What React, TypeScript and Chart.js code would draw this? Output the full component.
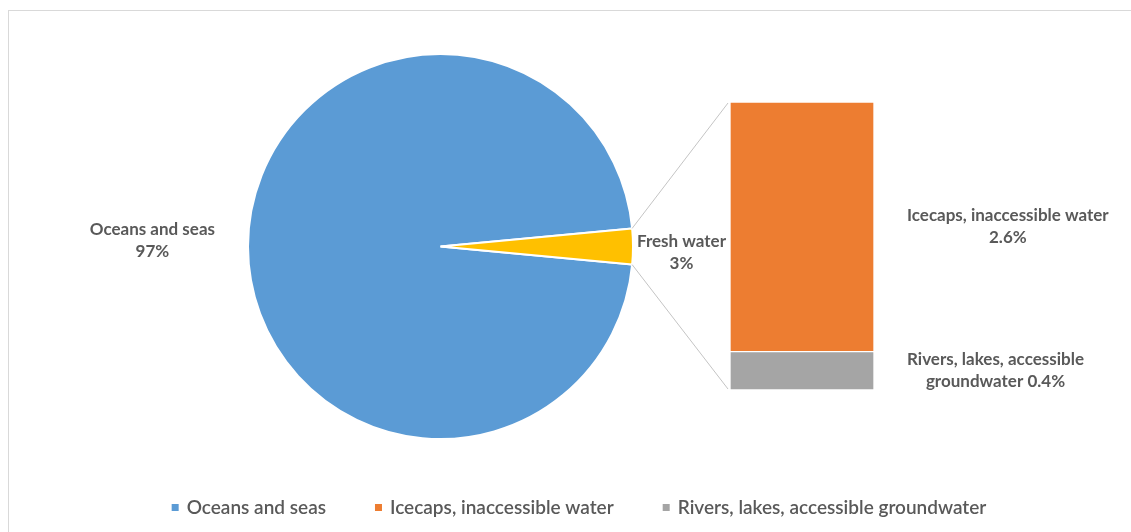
import React, { useEffect, useRef } from "react";
import { Chart, registerables } from "chart.js";

Chart.register(...registerables);

// Pie: share of all water on Earth
const pieCategories = ["Oceans and seas", "Fresh water"];
const pieValues = [97, 3];
const pieColors = ["#5B9BD5", "#FFC000"];

// Bar: breakdown of the fresh-water share (bottom to top)
const barCategories = ["Rivers, lakes, accessible groundwater", "Icecaps, inaccessible water"];
const barValues = [0.4, 2.6];
const barColors = ["#A5A5A5", "#ED7D31"];

// Legend entries
const legendItems = ["Oceans and seas", "Icecaps, inaccessible water", "Rivers, lakes, accessible groundwater"];
const legendColors = ["#5B9BD5", "#ED7D31", "#A5A5A5"];

const TEXT_COLOR = "#595959";
const LABEL_FONT = "bold 17px Lato";
const LEGEND_FONT = "600 19px Lato";
const LINE_H = 22;

const FRAME_W = 1130;
const FRAME_H = 530;
const BAR_BOX = { left: 721, top: 91, width: 144, height: 288 };

const barTotal = barValues.reduce((a, b) => a + b, 0);
const freshIndex = 1;
const pieTotal = pieValues.reduce((a, b) => a + b, 0);
// Centre the fresh-water slice on the right-hand horizontal axis
const pieRotation = 90 + ((pieValues[freshIndex] / pieTotal) * 360) / 2;

function wrap(ctx: CanvasRenderingContext2D, text: string, maxW: number): string[] {
  const words = text.split(" ");
  const lines: string[] = [];
  let cur = "";
  for (const w of words) {
    const next = cur ? cur + " " + w : w;
    if (cur && ctx.measureText(next).width > maxW) {
      lines.push(cur);
      cur = w;
    } else {
      cur = next;
    }
  }
  if (cur) lines.push(cur);
  return lines;
}

function drawBlock(ctx: CanvasRenderingContext2D, lines: string[], cx: number, cy: number) {
  const top = cy - ((lines.length - 1) * LINE_H) / 2;
  lines.forEach((l, i) => ctx.fillText(l, cx, top + i * LINE_H));
}

function blockWidth(ctx: CanvasRenderingContext2D, lines: string[]) {
  return Math.max(...lines.map((l) => ctx.measureText(l).width));
}

function makeOverlay(barChart: Chart) {
  return {
    id: "pieOfBarOverlay",
    afterDraw(chart: Chart) {
      const ctx = chart.ctx;
      const arcs = chart.getDatasetMeta(0).data as any[];
      const barMeta = barChart.getDatasetMeta(1).data as any[];
      const lowMeta = barChart.getDatasetMeta(0).data as any[];
      const top = barMeta[0].getProps(["x", "y", "base", "width"], true);
      const low = lowMeta[0].getProps(["x", "y", "base", "width"], true);

      ctx.save();

      // connector lines from the fresh-water slice to the breakdown bar
      const fresh = arcs[freshIndex].getProps(["x", "y", "startAngle", "endAngle", "outerRadius"], true);
      const barLeft = BAR_BOX.left + top.x - top.width / 2 - 2;
      const barTop = BAR_BOX.top + top.y + 1;
      const barBottom = BAR_BOX.top + low.base - 1;
      ctx.strokeStyle = "#C4C4C4";
      ctx.lineWidth = 1;
      ctx.beginPath();
      ctx.moveTo(fresh.x + fresh.outerRadius * Math.cos(fresh.startAngle), fresh.y + fresh.outerRadius * Math.sin(fresh.startAngle));
      ctx.lineTo(barLeft, barTop);
      ctx.moveTo(fresh.x + fresh.outerRadius * Math.cos(fresh.endAngle), fresh.y + fresh.outerRadius * Math.sin(fresh.endAngle));
      ctx.lineTo(barLeft, barBottom);
      ctx.stroke();

      // pie data labels
      ctx.font = LABEL_FONT;
      ctx.fillStyle = TEXT_COLOR;
      ctx.textAlign = "center";
      ctx.textBaseline = "middle";
      const pieGap = [33, 4];
      const pieDy = [-6, 6];
      arcs.forEach((arc, i) => {
        const p = arc.getProps(["x", "y", "startAngle", "endAngle", "outerRadius"], true);
        const mid = (p.startAngle + p.endAngle) / 2;
        const lines = [pieCategories[i], `${pieValues[i]}%`];
        const w = blockWidth(ctx, lines);
        const dir = Math.cos(mid) < 0 ? -1 : 1;
        const edgeX = p.x + Math.cos(mid) * (p.outerRadius + pieGap[i]);
        const cx = edgeX + (dir * w) / 2;
        const cy = p.y + Math.sin(mid) * p.outerRadius + pieDy[i];
        drawBlock(ctx, lines, cx, cy);
      });

      // bar data labels, to the right of each segment
      barCategories.forEach((name, i) => {
        const el = barChart.getDatasetMeta(i).data[0] as any;
        const p = el.getProps(["x", "y", "base", "width"], true);
        const lines = wrap(ctx, `${name} ${barValues[i]}%`, 212);
        const w = blockWidth(ctx, lines);
        const left = BAR_BOX.left + p.x + p.width / 2 + 33;
        const cy = BAR_BOX.top + (p.y + p.base) / 2;
        drawBlock(ctx, lines, left + w / 2, cy);
      });

      // legend
      ctx.font = LEGEND_FONT;
      ctx.textAlign = "left";
      const sq = 7;
      const sqGap = 8;
      const itemGap = 49;
      const widths = legendItems.map((t) => ctx.measureText(t).width);
      const total = widths.reduce((a, w) => a + sq + sqGap + w, 0) + itemGap * (legendItems.length - 1);
      let x = FRAME_W / 2 + 5 - total / 2;
      const ly = 497;
      legendItems.forEach((t, i) => {
        ctx.fillStyle = legendColors[i];
        ctx.fillRect(x, ly - 4, sq, sq);
        ctx.fillStyle = TEXT_COLOR;
        ctx.fillText(t, x + sq + sqGap, ly);
        x += sq + sqGap + widths[i] + itemGap;
      });

      ctx.restore();
    },
  };
}

export default function App() {
  const pieRef = useRef<HTMLCanvasElement>(null);
  const barRef = useRef<HTMLCanvasElement>(null);

  useEffect(() => {
    const barChart = new Chart(barRef.current!, {
      type: "bar",
      data: {
        labels: [pieCategories[freshIndex]],
        datasets: barCategories.map((c, i) => ({
          label: c,
          data: [barValues[i]],
          backgroundColor: barColors[i],
          borderColor: "#FFFFFF",
          borderWidth: 1,
          borderSkipped: false,
          categoryPercentage: 1,
          barPercentage: 1,
        })),
      },
      options: {
        responsive: false,
        animation: false,
        layout: { padding: 0 },
        plugins: { legend: { display: false }, tooltip: { enabled: false } },
        scales: {
          x: { display: false, stacked: true },
          y: { display: false, stacked: true, min: 0, max: barTotal },
        },
      },
    });

    const pieChart = new Chart(pieRef.current!, {
      type: "pie",
      data: {
        labels: pieCategories,
        datasets: [
          {
            data: pieValues,
            backgroundColor: pieColors,
            borderColor: "#FFFFFF",
            borderWidth: 2,
          },
        ],
      },
      options: {
        responsive: false,
        animation: false,
        rotation: pieRotation,
        layout: { padding: { left: 238, right: 505, top: 42, bottom: 101 } },
        plugins: { legend: { display: false }, tooltip: { enabled: false } },
      },
      plugins: [makeOverlay(barChart)],
    });

    return () => {
      pieChart.destroy();
      barChart.destroy();
    };
  }, []);

  return (
    <div style={{ position: "absolute", left: 0, top: 0, width: 1131, height: 532, overflow: "hidden" }}>
      <div
        style={{
          position: "absolute",
          left: 8,
          top: 10,
          width: FRAME_W,
          height: FRAME_H,
          border: "1px solid #D9D9D9",
          background: "#FFFFFF",
        }}
      >
        <canvas
          ref={pieRef}
          width={FRAME_W}
          height={FRAME_H}
          style={{ position: "absolute", left: 0, top: 0 }}
        />
        <canvas
          ref={barRef}
          width={BAR_BOX.width}
          height={BAR_BOX.height}
          style={{ position: "absolute", left: BAR_BOX.left, top: BAR_BOX.top }}
        />
      </div>
    </div>
  );
}
